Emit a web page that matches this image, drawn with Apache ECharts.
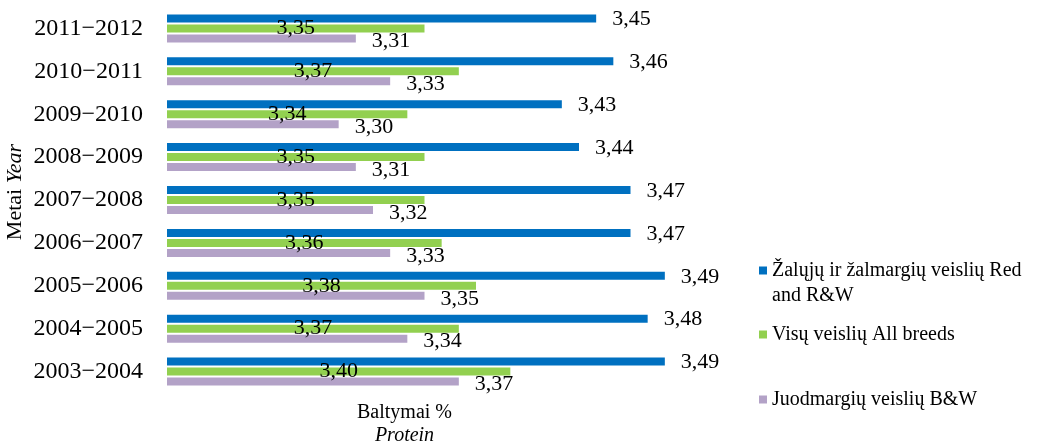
<!DOCTYPE html>
<html>
<head>
<meta charset="utf-8">
<script src="https://cdn.jsdelivr.net/npm/echarts@6/dist/echarts.min.js"></script>
<style>
  html, body { margin: 0; padding: 0; background: #fff; }
  #main { width: 1039px; height: 445px; }
</style>
</head>
<body>
<div id="main"></div>
<script>
// data, top row first
var years = ['2011−2012', '2010−2011', '2009−2010', '2008−2009', '2007−2008',
             '2006−2007', '2005−2006', '2004−2005', '2003−2004'];
var redRW = [3.45, 3.46, 3.43, 3.44, 3.47, 3.47, 3.49, 3.48, 3.49];
var allBreeds = [3.35, 3.37, 3.34, 3.35, 3.35, 3.36, 3.38, 3.37, 3.40];
var blackW = [3.31, 3.33, 3.30, 3.31, 3.32, 3.33, 3.35, 3.34, 3.37];

var names = ['Žalųjų ir žalmargių veislių Red and R&W', 'Visų veislių All breeds', 'Juodmargių veislių B&W'];

var serif = '"Liberation Serif", "DejaVu Serif", serif';
function fmt(p) { return p.value.toFixed(2).replace('.', ','); }

var chartDom = document.getElementById('main');
var myChart = echarts.init(chartDom);

var legendBase = {
    orient: 'vertical',
    left: 754,
    itemWidth: 8,
    itemHeight: 8,
    icon: 'rect',
    textStyle: { fontFamily: serif, fontSize: 20, color: '#000', lineHeight: 25 },
    formatter: function (n) {
        // empty first line keeps the marker level with the first text line
        return n === names[0] ? '\nŽalųjų ir žalmargių veislių Red\nand R&W' : n;
    }
};

var option = {
    backgroundColor: '#fff',
    animation: false,
    grid: { left: 167, right: 357, top: 7, bottom: 52, outerBoundsMode: 'none' },
    legend: [
        Object.assign({}, legendBase, { top: 228, data: [names[0]] }),
        Object.assign({}, legendBase, { top: 317, data: [names[1]] }),
        Object.assign({}, legendBase, { top: 382, data: [names[2]] })
    ],
    xAxis: {
        type: 'value',
        min: 3.2,
        max: 3.5,
        axisLine: { show: false },
        axisTick: { show: false },
        axisLabel: { show: false },
        splitLine: { show: false },
        name: '{a|Baltymai %}\n{b|Protein}',
        nameLocation: 'middle',
        nameGap: 8,
        nameTextStyle: {
            padding: [0, 40, 0, 0],
            rich: {
                a: { fontFamily: serif, fontSize: 20, color: '#000', lineHeight: 23, align: 'center' },
                b: { fontFamily: serif, fontSize: 20, color: '#000', fontStyle: 'italic', lineHeight: 23, align: 'center' }
            }
        }
    },
    yAxis: {
        type: 'category',
        data: years,
        inverse: true,
        axisLine: { show: false },
        axisTick: { show: false },
        axisLabel: { fontFamily: serif, fontSize: 24, color: '#000', margin: 24 },
        name: '{a|Metai }{b|Year}',
        nameLocation: 'middle',
        nameRotate: 90,
        nameGap: 141,
        nameTextStyle: {
            padding: [0, 0, 0, 16],
            rich: {
                a: { fontFamily: serif, fontSize: 22, color: '#000' },
                b: { fontFamily: serif, fontSize: 22, color: '#000', fontStyle: 'italic' }
            }
        }
    },
    series: [
        {
            name: names[0],
            type: 'bar',
            barWidth: 8,
            barGap: '25%',
            itemStyle: { color: '#0070C0' },
            label: { show: true, position: 'right', distance: 16, offset: [0, 1],
                     formatter: fmt, fontFamily: serif, fontSize: 22, color: '#000' },
            data: redRW
        },
        {
            name: names[1],
            type: 'bar',
            barWidth: 8,
            barGap: '25%',
            itemStyle: { color: '#92D050' },
            label: { show: true, position: 'inside', formatter: fmt,
                     fontFamily: serif, fontSize: 22, color: '#000' },
            data: allBreeds
        },
        {
            name: names[2],
            type: 'bar',
            barWidth: 8,
            barGap: '25%',
            itemStyle: { color: '#B3A2C7' },
            label: { show: true, position: 'right', distance: 16, offset: [0, 3],
                     formatter: fmt, fontFamily: serif, fontSize: 22, color: '#000' },
            data: blackW
        }
    ]
};

myChart.setOption(option);
</script>
</body>
</html>
